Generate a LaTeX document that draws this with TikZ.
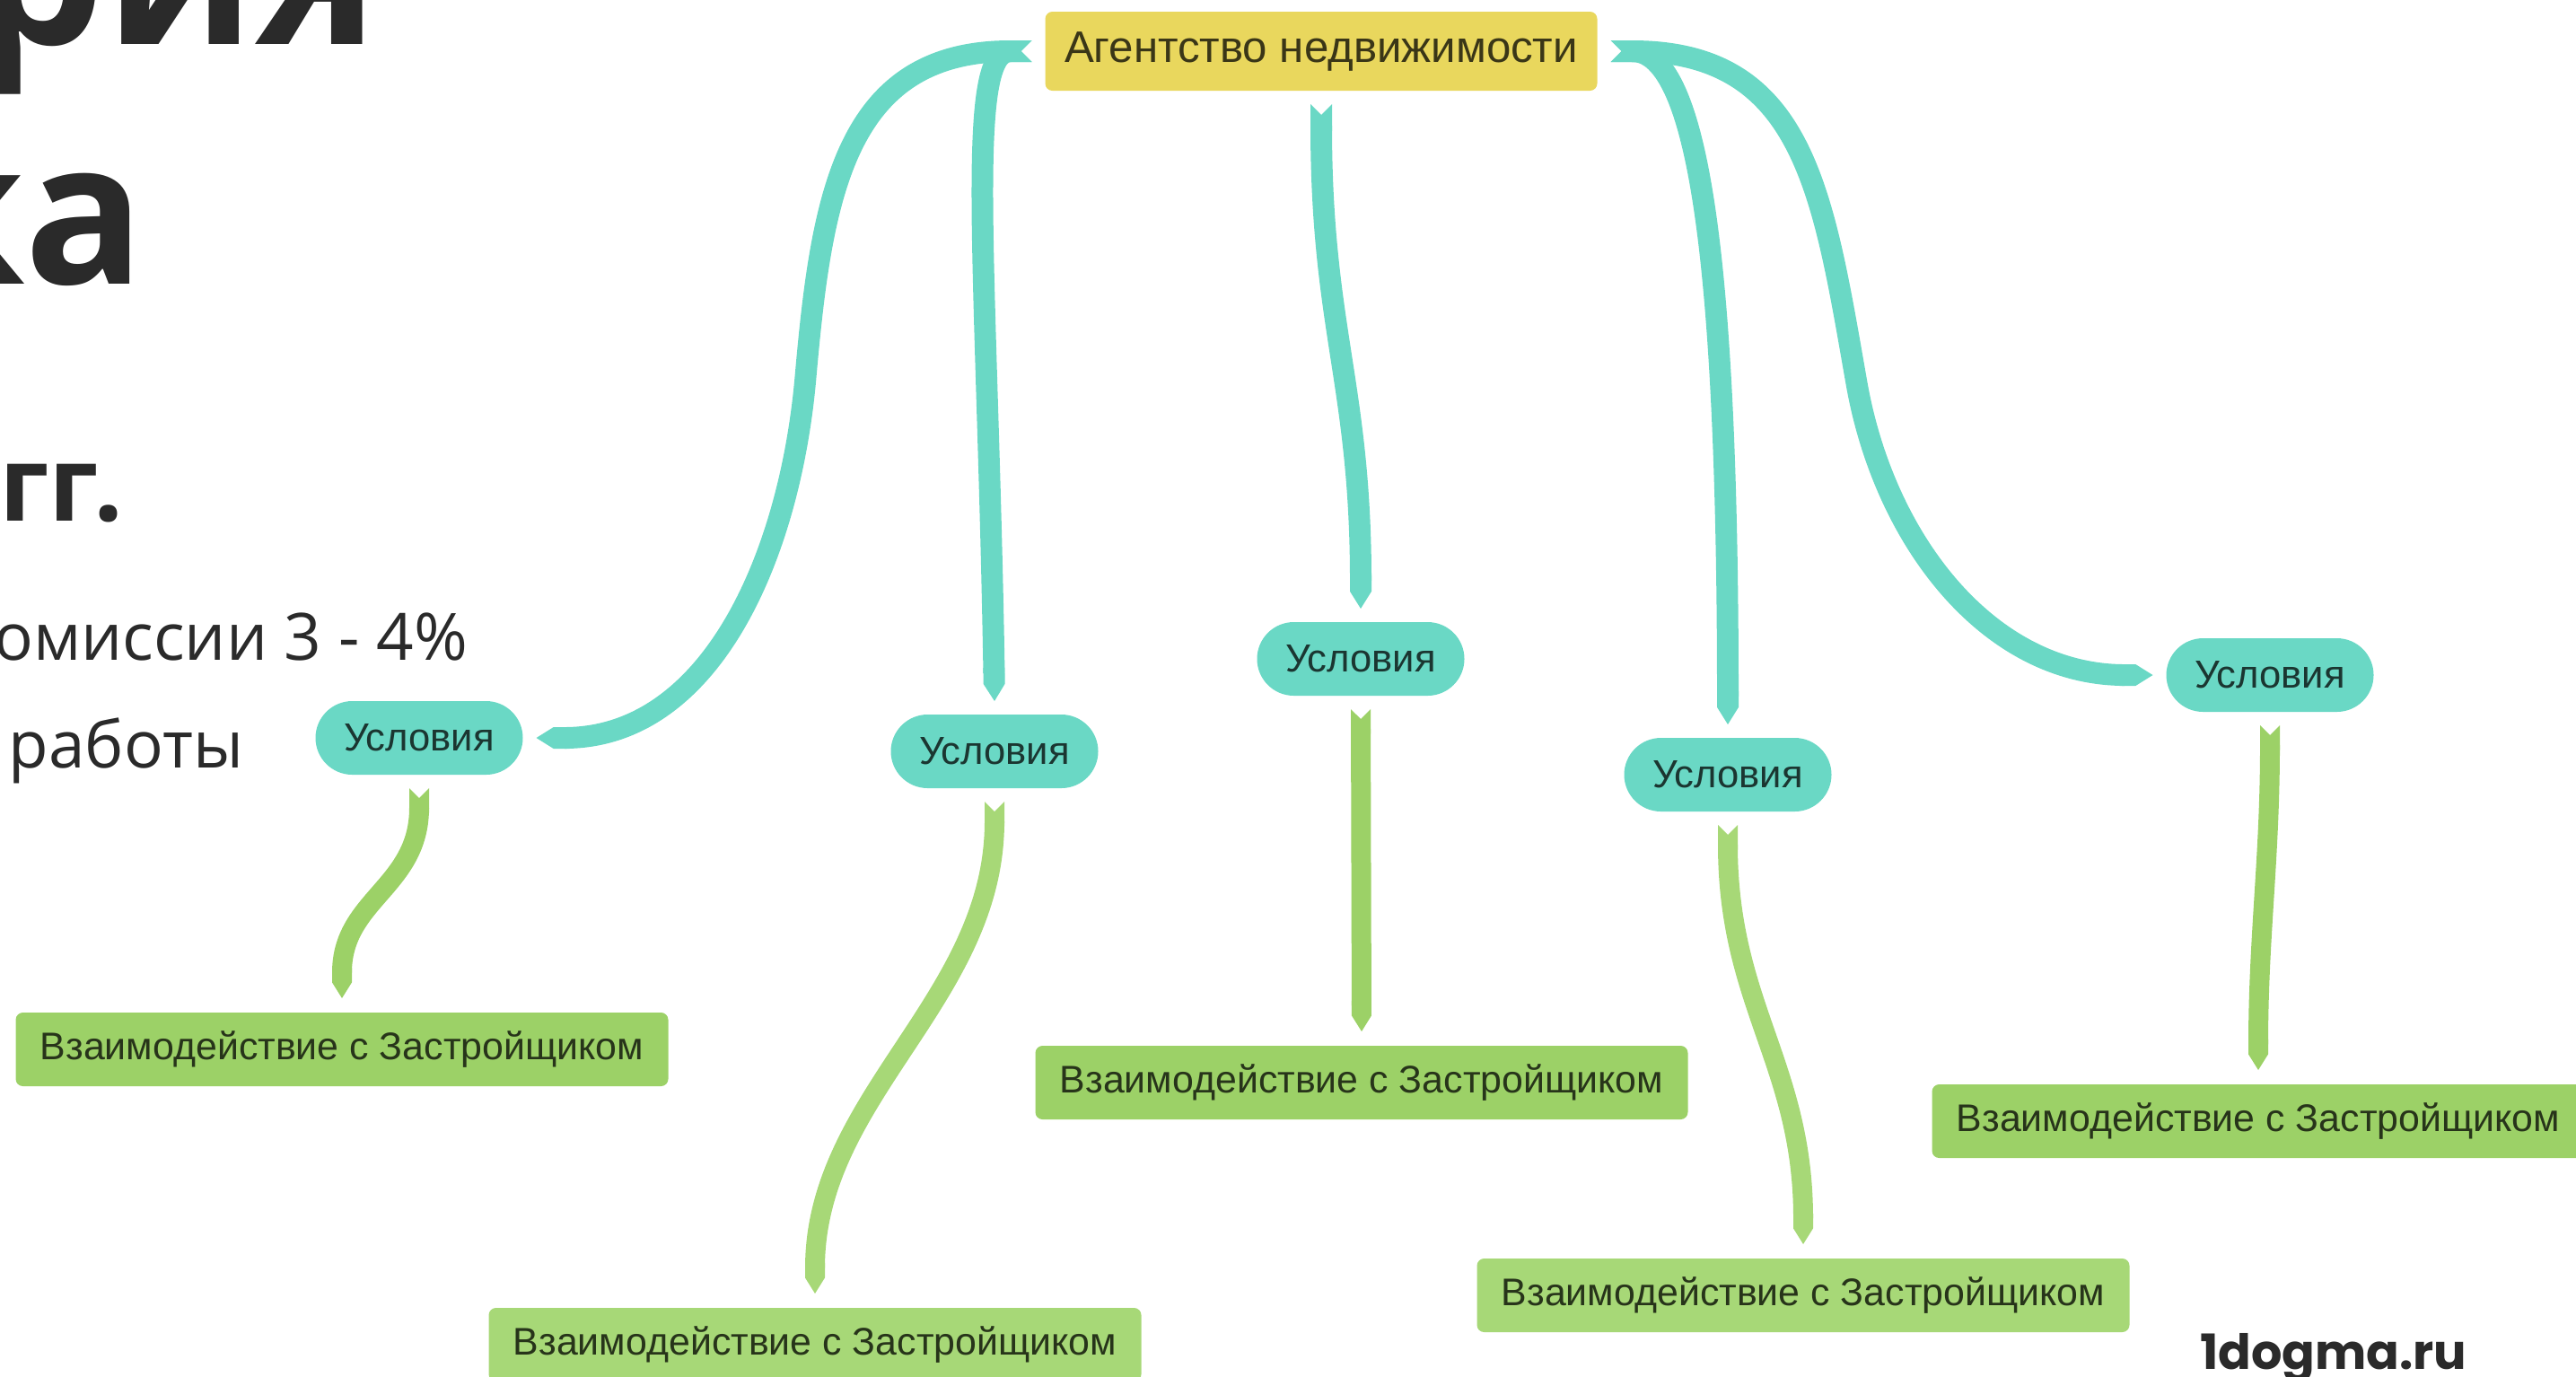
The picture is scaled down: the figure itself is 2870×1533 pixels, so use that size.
\documentclass[tikz,border=0pt]{standalone}
\usepackage{fontspec}
\setmainfont{Liberation Sans}
\newfontfamily\headfont{Open Sans}
\newfontfamily\logofont{Poppins}
\usetikzlibrary{arrows.meta, positioning}

\definecolor{tealc}{HTML}{6AD8C5}
\definecolor{greenc}{HTML}{9CD167}
\definecolor{lgreenc}{HTML}{A7D877}
\definecolor{yellowc}{HTML}{E9D75D}
\definecolor{inkc}{HTML}{2A2A2A}

\tikzset{
  rootbox/.style={fill=yellowc, rounded corners=0.8mm, minimum width=61.5mm, minimum height=8.8mm,
    inner sep=0pt, outer sep=1.5mm, text=yellowc!25!black, font=\fontsize{14pt}{16pt}\selectfont},
  condbox/.style={fill=tealc, rounded corners=4.1mm, minimum width=23.1mm, minimum height=8.2mm,
    inner sep=0pt, outer sep=1.5mm, text=tealc!25!black, font=\fontsize{12.4pt}{14pt}\selectfont},
  devbox/.style={fill=greenc, rounded corners=0.8mm, minimum width=72.7mm, minimum height=8.2mm,
    inner sep=0pt, outer sep=1.6mm, text=greenc!25!black, font=\fontsize{12.2pt}{14pt}\selectfont},
  tealline/.style={draw=tealc, line width=2.4mm, {Triangle Cap[reversed]}-{Triangle Cap[length=0pt .8]}},
  greenline/.style={draw=greenc, line width=2.2mm, {Triangle Cap[reversed]}-{Triangle Cap[length=0pt .8]}},
  headtext/.style={anchor=base east, inner sep=0pt, text=inkc}
}

\begin{document}
\begin{tikzpicture}[x=0.1mm, y=-0.1mm]
  \useasboundingbox (0,0) rectangle (2870,1533);
  \clip (0,0) rectangle (2870,1533);

  % slide text on the left
  \node[headtext, font=\headfont\bfseries\fontsize{66pt}{70pt}\selectfont] (title1) at (423,49) {рия};
  \node[headtext, font=\headfont\bfseries\fontsize{63pt}{70pt}\selectfont] (title2) at (162,316) {ка};
  \node[headtext, font=\headfont\bfseries\fontsize{33pt}{36pt}\selectfont] (years) at (138,580) {гг.};
  \node[headtext, font=\headfont\fontsize{20.7pt}{24pt}\selectfont] (fee) at (522,735) {омиссии 3 - 4\%};
  \node[headtext, font=\headfont\fontsize{20.7pt}{24pt}\selectfont] (work) at (272,855) {работы};
  \node[headtext, font=\logofont\bfseries\fontsize{15.4pt}{18pt}\selectfont] (logo) at (2749,1525) {1dogma.ru};

  % nodes
  \node[rootbox] (agency) at (1472,57) {Агентство недвижимости};

  \node[condbox] (cond1) at (467,822) {Условия};
  \node[condbox] (cond2) at (1108,837) {Условия};
  \node[condbox] (cond3) at (1516,734) {Условия};
  \node[condbox] (cond4) at (1925,863) {Условия};
  \node[condbox] (cond5) at (2529,752) {Условия};

  \node[devbox] (dev1) at (381,1169) {Взаимодействие с Застройщиком};
  \node[devbox, fill=lgreenc] (dev2) at (908,1498) {Взаимодействие с Застройщиком};
  \node[devbox] (dev3) at (1517,1206) {Взаимодействие с Застройщиком};
  \node[devbox, fill=lgreenc] (dev4) at (2009,1443) {Взаимодействие с Застройщиком};
  \node[devbox] (dev5) at (2516,1249) {Взаимодействие с Застройщиком};

  % agency -> conditions
  \draw[tealline] (agency.west) to[out=180, in=85, looseness=1.2] ++(-252,363)
    to[out=-95, in=0] (cond1.east);
  \draw[tealline] (agency.west) .. controls +(-75,0) and +(-8,-480) .. (cond2.north);
  \draw[tealline] (agency.south) .. controls +(0,250) and +(0,-250) .. (cond3.north);
  \draw[tealline] (agency.east) .. controls +(100,0) and +(0,-500) .. (cond4.north);
  \draw[tealline] (agency.east) to[out=0, in=100, looseness=1.2] ++(274,370)
    to[out=-80, in=180] (cond5.west);

  % conditions -> developer
  \draw[greenline] (cond1.south) .. controls +(0,110) and +(0,-110) .. (dev1.north);
  \draw[greenline, draw=lgreenc] (cond2.south) .. controls +(0,220) and +(0,-220) .. (dev2.north);
  \draw[greenline] (cond3.south) -- (dev3.north);
  \draw[greenline, draw=lgreenc] (cond4.south) .. controls +(0,200) and +(0,-200) .. (dev4.north);
  \draw[greenline] (cond5.south) .. controls +(0,150) and +(0,-150) .. (dev5.north);
\end{tikzpicture}
\end{document}
